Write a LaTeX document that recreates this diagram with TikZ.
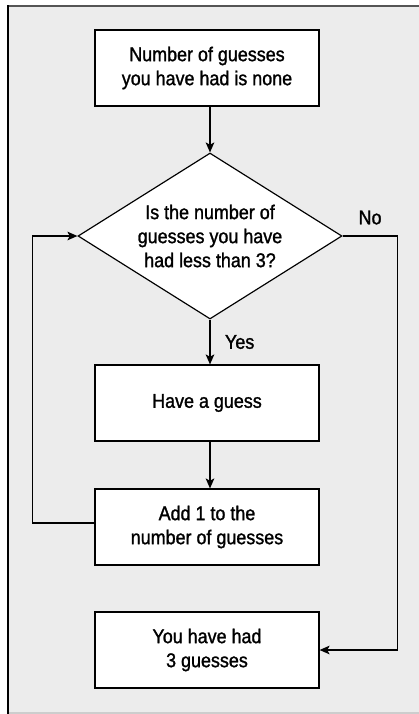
\documentclass[tikz,border=0pt]{standalone}
\usepackage{fontspec}
\setmainfont{Liberation Sans}[FakeStretch=0.9, FakeBold=1.3]
\usepackage{tikz}
\usetikzlibrary{positioning, shapes.geometric, arrows.meta}
\definecolor{panelBg}{RGB}{236,236,236}
\definecolor{panelTop}{RGB}{85,85,85}
\definecolor{panelBot}{RGB}{205,205,205}
\tikzstyle{stepbox}  = [draw, fill=white, line width=1pt, minimum width=6.72cm, minimum height=2.28cm, align=center, inner sep=0pt]
\tikzstyle{decision} = [draw, fill=white, diamond, line width=1pt, aspect=1.59, minimum width=7.92cm, minimum height=4.98cm, align=center, inner sep=0pt]
\tikzstyle{arrow}    = [-{Stealth[length=3mm, width=2.6mm, inset=0.7mm]}, line width=1pt]

\begin{document}
\begin{tikzpicture}[x=0.03cm, y=-0.03cm, font=\fontsize{17}{20.5}\selectfont]
% panel: 419 x 714 px, y runs downwards
\useasboundingbox (0,0) rectangle (419,714);
\fill[panelBg] (8,6) rectangle (419,714);
\draw[panelBot, line width=1pt] (8,713) -- (419,713);
\draw[panelTop, line width=1.8pt] (8,6) -- (419,6);
\draw[black, line width=1.8pt] (8,5.2) -- (8,714);
% steps
\node[stepbox]  (start) at (207,68)  {Number of guesses\\you have had is none};
\node[decision] (test)  at (210,236) {Is the number of\\guesses you have\\had less than 3?};
\node[stepbox]  (guess) at (207,403) {Have a guess};
\node[stepbox]  (add)   at (207,527) {Add 1 to the\\number of guesses};
\node[stepbox]  (done)  at (207,650) {You have had\\3 guesses};
% flow
\draw[arrow] (start.south -| test.north) -- (test.north);
\draw[arrow] (test.south) -- (guess.north -| test.south)
  node[midway, right=9pt] {Yes};
\draw[arrow] (guess.south -| test.south) -- (add.north -| test.south);
\draw[arrow] ([yshift=0.12cm]add.west) -- ++(-62,0) |- (test.west);
\draw[arrow] (test.east) -- ++(55,0) node[midway, above=6pt] {No}
  |- (done.east);
\end{tikzpicture}
\end{document}
